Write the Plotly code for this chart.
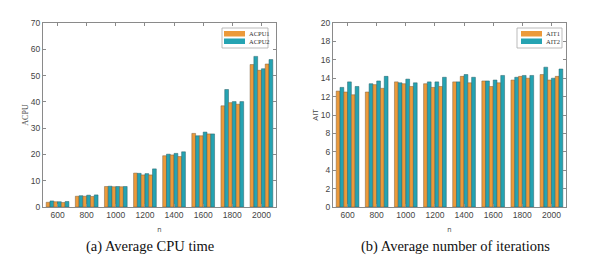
import plotly.graph_objects as go

categories = ["600", "800", "1000", "1200", "1400", "1600", "1800", "2000"]

# (a) Average CPU time: three pairs of bars per n (ACPU1 / ACPU2)
acpu1_a = [1.8, 4.1, 7.8, 12.9, 19.5, 28.0, 38.5, 54.2]
acpu2_a = [2.3, 4.3, 7.9, 12.8, 20.1, 27.1, 44.7, 57.3]
acpu1_b = [2.0, 4.1, 7.7, 12.2, 19.8, 27.1, 39.7, 52.0]
acpu2_b = [2.0, 4.5, 7.8, 12.7, 20.4, 28.5, 40.1, 52.6]
acpu1_c = [1.7, 4.0, 7.7, 12.2, 19.2, 27.8, 39.1, 54.4]
acpu2_c = [2.1, 4.6, 7.8, 14.5, 21.0, 27.8, 40.1, 56.1]

# (b) Average number of iterations (AIT1 / AIT2)
ait1_a = [12.6, 12.5, 13.6, 13.4, 13.6, 13.7, 13.8, 14.4]
ait2_a = [13.0, 13.4, 13.5, 13.6, 13.6, 13.7, 14.1, 15.2]
ait1_b = [12.5, 13.3, 13.4, 13.0, 14.2, 13.1, 14.2, 13.8]
ait2_b = [13.6, 13.7, 13.9, 13.6, 14.4, 13.8, 14.3, 14.0]
ait1_c = [12.2, 12.9, 13.1, 13.1, 13.5, 13.5, 14.0, 14.2]
ait2_c = [13.1, 14.2, 13.5, 14.1, 14.1, 14.3, 14.3, 15.0]

legend_a = ["ACPU1", "ACPU2"]
legend_b = ["AIT1", "AIT2"]

ORANGE = "#EC9A3A"
TEAL = "#25A3B2"
W, H = 592, 271
OFF = 8  # page body margin

fig = go.Figure()

def add_series(vals_list, names, xa, ya):
    for i, vals in enumerate(vals_list):
        is_first = i % 2 == 0
        color = ORANGE if is_first else TEAL
        fig.add_trace(go.Bar(
            x=categories, y=vals, xaxis=xa, yaxis=ya,
            name=names[0] if is_first else names[1],
            showlegend=False,
            marker=dict(color=color, line=dict(color="#7a6040" if is_first else "#2b6066", width=0.5)),
            offsetgroup=str(i),
        ))

add_series([acpu1_a, acpu2_a, acpu1_b, acpu2_b, acpu1_c, acpu2_c], legend_a, "x", "y")
add_series([ait1_a, ait2_a, ait1_b, ait2_b, ait1_c, ait2_c], legend_b, "x2", "y2")

def px_x(p):
    return (p - OFF) / W

def px_y(p):
    return 1 - (p - OFF) / H

axis_common = dict(showline=True, linecolor="#8a8a8a", linewidth=1, mirror="ticks",
                   ticks="inside", ticklen=3, tickcolor="#8a8a8a", showgrid=False,
                   zeroline=False, automargin=False,
                   tickfont=dict(family="Liberation Sans", size=8.5, color="#444"))

shapes = []
annotations = []

def add_legend(names, box_x0, box_x1, sw_x0, sw_x1, text_x):
    shapes.append(dict(type="rect", xref="paper", yref="paper",
                       x0=px_x(box_x0), x1=px_x(box_x1), y0=px_y(48), y1=px_y(28),
                       line=dict(color="#aaa", width=0.8), fillcolor="white", layer="above"))
    for k, (name, color) in enumerate(zip(names, [ORANGE, TEAL])):
        y0 = 31 + k * 7.5
        shapes.append(dict(type="rect", xref="paper", yref="paper",
                           x0=px_x(sw_x0), x1=px_x(sw_x1), y0=px_y(y0 + 5.5), y1=px_y(y0),
                           line=dict(width=0), fillcolor=color, layer="above"))
        annotations.append(dict(text=name, x=px_x(text_x), y=px_y(y0 + 2.8), xref="paper", yref="paper",
                                xanchor="left", yanchor="middle", showarrow=False,
                                font=dict(family="Liberation Serif", size=6.5, color="#333")))

add_legend(legend_a, 222, 268, 224, 245, 246.5)
add_legend(legend_b, 517, 562, 521, 542, 543.5)

annotations += [
    dict(text="(a) Average CPU time", x=px_x(150), y=px_y(246), xref="paper", yref="paper",
         xanchor="center", yanchor="middle",
         showarrow=False, font=dict(family="Liberation Serif", size=14.5, color="#111")),
    dict(text="(b) Average number of iterations", x=px_x(455), y=px_y(246), xref="paper", yref="paper",
         xanchor="center", yanchor="middle",
         showarrow=False, font=dict(family="Liberation Serif", size=14.5, color="#111")),
]

fig.update_layout(
    width=W, height=H, margin=dict(l=0, r=0, t=0, b=0),
    paper_bgcolor="white", plot_bgcolor="white",
    barmode="group", bargap=0.22, bargroupgap=0,
    showlegend=False,
    xaxis=dict(domain=[px_x(43), px_x(276)], anchor="y",
               title=dict(text="n", font=dict(size=7, color="#444"), standoff=7), **axis_common),
    yaxis=dict(domain=[px_y(207), px_y(23)], anchor="x", range=[0, 70], dtick=10,
               title=dict(text="ACPU", font=dict(family="Liberation Serif", size=8, color="#444"), standoff=1),
               **axis_common),
    xaxis2=dict(domain=[px_x(333), px_x(566)], anchor="y2",
                title=dict(text="n", font=dict(size=7, color="#444"), standoff=7), **axis_common),
    yaxis2=dict(domain=[px_y(207), px_y(23)], anchor="x2", range=[0, 20], dtick=2,
                title=dict(text="AIT", font=dict(size=8, color="#444"), standoff=1), **axis_common),
    shapes=shapes,
    annotations=annotations,
)

fig.write_html("out.html")
